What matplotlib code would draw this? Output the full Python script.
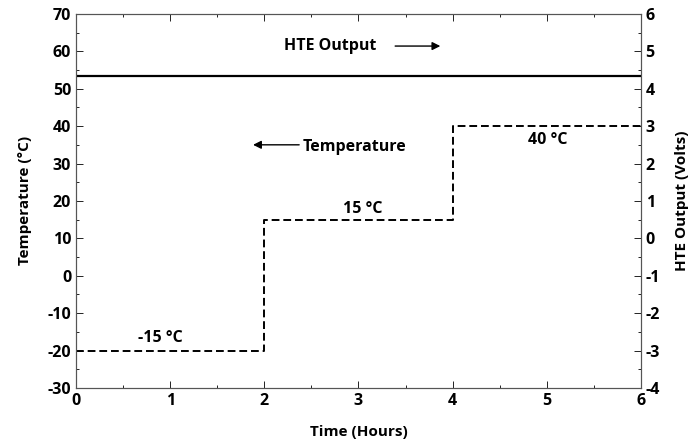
import matplotlib
matplotlib.use("Agg")
import matplotlib.pyplot as plt
from matplotlib.ticker import MultipleLocator

# step temperature profile (hours, deg C)
step_time = [0, 2, 2, 4, 4, 6]
step_temp = [-20, -20, 15, 15, 40, 40]

# HTE output (volts), flat
hte_time = [0, 6]
hte_volts = [4.33, 4.33]

step_labels = ["-15 °C", "15 °C", "40 °C"]
label_x = [0.90, 3.05, 5.01]
label_y = [-16.6, 17.9, 36.3]

plt.rcParams['font.family'] = ['Open Sans', 'DejaVu Sans']
plt.rcParams['font.weight'] = 'bold'
plt.rcParams['axes.unicode_minus'] = False

fs = 11.5

fig = plt.figure(figsize=(6.92, 4.48), dpi=100)
ax = fig.add_axes([0.110, 0.134, 0.816, 0.835])
ax2 = ax.twinx()

ax.plot(step_time, step_temp, color='black', linestyle=(0, (4, 2)), linewidth=1.4)
ax2.plot(hte_time, hte_volts, color='black', linewidth=1.6)

ax.set_xlim(0, 6)
ax.set_ylim(-30, 70)
ax2.set_ylim(-4, 6)

ax.xaxis.set_major_locator(MultipleLocator(1))
ax.xaxis.set_minor_locator(MultipleLocator(0.5))
ax.yaxis.set_major_locator(MultipleLocator(10))
ax.yaxis.set_minor_locator(MultipleLocator(5))
ax2.yaxis.set_major_locator(MultipleLocator(1))
ax2.yaxis.set_minor_locator(MultipleLocator(0.5))

for a in (ax, ax2):
    a.tick_params(which='both', direction='in', labelsize=fs, width=0.6, colors='black')
    a.tick_params(which='major', length=5)
    a.tick_params(which='minor', length=2.5)
    for s in a.spines.values():
        s.set_color('#555555')
        s.set_linewidth(0.8)
ax.tick_params(axis='x', which='both', top=True)

ax.set_xlabel("Time (Hours)", fontsize=fs - 0.5, fontweight='bold', labelpad=12)
ax.set_ylabel("Temperature (°C)", fontsize=fs - 0.5, fontweight='bold', labelpad=11)
ax2.set_ylabel("HTE Output (Volts)", fontsize=fs - 0.5, fontweight='bold', labelpad=11)

for t, x, y in zip(step_labels, label_x, label_y):
    ax.text(x, y, t, ha='center', va='center', fontsize=fs, fontweight='bold')

arrow = dict(arrowstyle='-|>', color='black', lw=1.0, mutation_scale=12, shrinkA=0, shrinkB=0)
ax.text(2.70, 61.4, "HTE Output", ha='center', va='center', fontsize=fs, fontweight='bold')
ax.annotate("", xy=(3.87, 61.4), xytext=(3.39, 61.4), arrowprops=arrow)
ax.text(2.96, 34.4, "Temperature", ha='center', va='center', fontsize=fs, fontweight='bold')
ax.annotate("", xy=(1.88, 35.0), xytext=(2.37, 35.0), arrowprops=arrow)

fig.savefig("out.png", dpi=100)
